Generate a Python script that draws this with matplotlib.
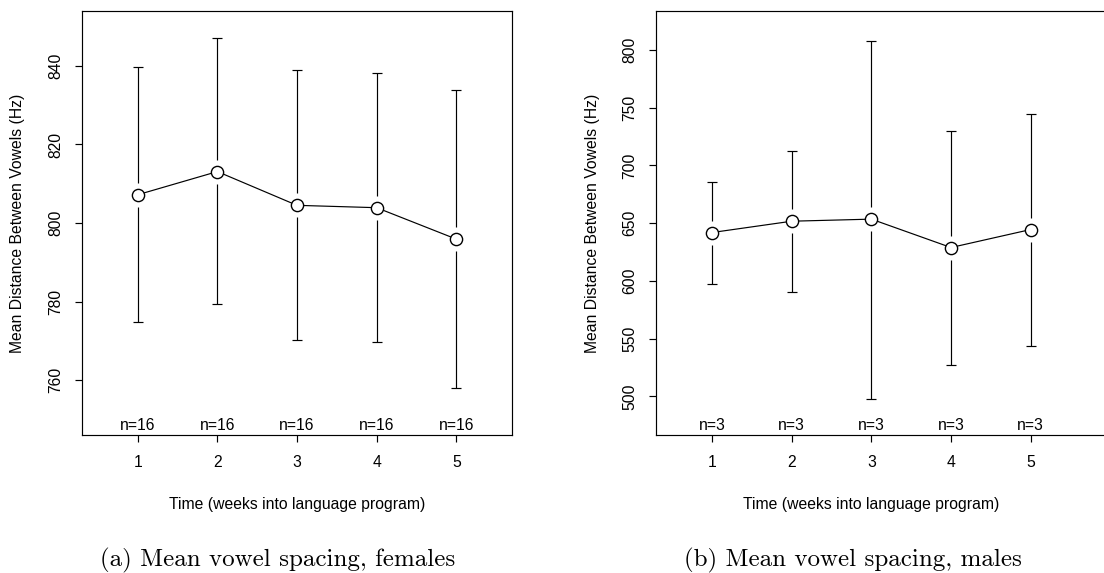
import matplotlib
matplotlib.use("Agg")
import matplotlib.pyplot as plt
import matplotlib.transforms as mtransforms
import numpy as np

plt.rcParams['font.family'] = ['Liberation Sans', 'DejaVu Sans']

weeks = [1, 2, 3, 4, 5]

fem_mean = [807.2, 813.1, 804.5, 803.9, 795.9]
fem_upper = [839.7, 847.1, 838.9, 838.2, 833.8]
fem_lower = [774.7, 779.3, 770.1, 769.6, 758.0]
fem_n = [16, 16, 16, 16, 16]
fem_yticks = [760, 780, 800, 820, 840]

male_mean = [641.9, 651.7, 653.5, 628.9, 644.5]
male_upper = [685.8, 712.6, 808.1, 730.0, 744.8]
male_lower = [597.4, 590.8, 498.0, 527.1, 544.0]
male_n = [3, 3, 3, 3, 3]
male_yticks = [500, 550, 600, 650, 700, 750, 800]

ylabel = "Mean Distance Between Vowels (Hz)"
xlabel = "Time (weeks into language program)"
captions = ["(a) Mean vowel spacing, females", "(b) Mean vowel spacing, males"]

W, H = 1104, 573
fig = plt.figure(figsize=(W / 100, H / 100), dpi=100)

def px_axes(l, r, b, t):
    return fig.add_axes([l / W, 1 - b / H, (r - l) / W, (b - t) / H])

ax1 = px_axes(82, 512, 435, 11)
ax2 = px_axes(656.3, 1110, 435, 11)

panels = [
    (ax1, fem_mean, fem_upper, fem_lower, fem_n, fem_yticks, (746, 854), (0.3, 5.7)),
    (ax2, male_mean, male_upper, male_lower, male_n, male_yticks, (466.5, 833.8), (0.3, 5.996)),
]

lw = 0.85
fs = 11.3
for ax, mean, up, lo, nn, yt, ylim, xlim in panels:
    ax.set_xlim(*xlim)
    ax.set_ylim(*ylim)
    # gap around point for error bars, in data units (12 px)
    hpx = ax.get_position().height * H
    gap = 12.0 / hpx * (ylim[1] - ylim[0])
    mean_a = np.array(mean)
    ax.vlines(weeks, mean_a + gap, up, color='black', lw=lw, zorder=2)
    ax.vlines(weeks, lo, mean_a - gap, color='black', lw=lw, zorder=2)
    ax.plot(weeks, up, ls='none', marker='_', ms=7.5, mew=lw, color='black', zorder=2)
    ax.plot(weeks, lo, ls='none', marker='_', ms=7.5, mew=lw, color='black', zorder=2)
    ax.plot(weeks, mean, color='black', lw=lw, zorder=3)
    ax.plot(weeks, mean, ls='none', marker='o', ms=8.8, mfc='white', mec='black',
            mew=1.0, zorder=4)
    trans = mtransforms.blended_transform_factory(ax.transData, ax.transAxes)
    for x, n in zip(weeks, nn):
        ax.text(x, 0.011, f"n={n}", transform=trans, ha='center', va='baseline',
                fontsize=fs)
    ax.set_xticks(weeks)
    ax.set_xticklabels([str(w) for w in weeks])
    ax.set_yticks(yt)
    ax.set_yticklabels([str(v) for v in yt], rotation=90, va='center')
    ax.tick_params(axis='both', direction='out', length=5.2, width=lw, labelsize=fs,
                   color='black')
    ax.tick_params(axis='x', pad=9.3)
    ax.tick_params(axis='y', pad=8.3)
    for s in ax.spines.values():
        s.set_linewidth(lw)
        s.set_color('black')
    # x label centred under tick 3
    ax.text(3, -(504 - 435) / (424), xlabel, transform=trans, ha='center', va='center',
            fontsize=fs)

# y labels
fig.text(18 / W, 1 - 223 / H, ylabel, rotation=90, ha='center', va='center', fontsize=fs)
fig.text(592 / W, 1 - 223 / H, ylabel, rotation=90, ha='center', va='center', fontsize=fs)

# captions
fig.text(278 / W, 1 - 560 / H, captions[0], ha='center', va='center', fontsize=18,
         family='cmr10')
fig.text(853 / W, 1 - 560 / H, captions[1], ha='center', va='center', fontsize=18,
         family='cmr10')

fig.savefig("out.png", dpi=100)
